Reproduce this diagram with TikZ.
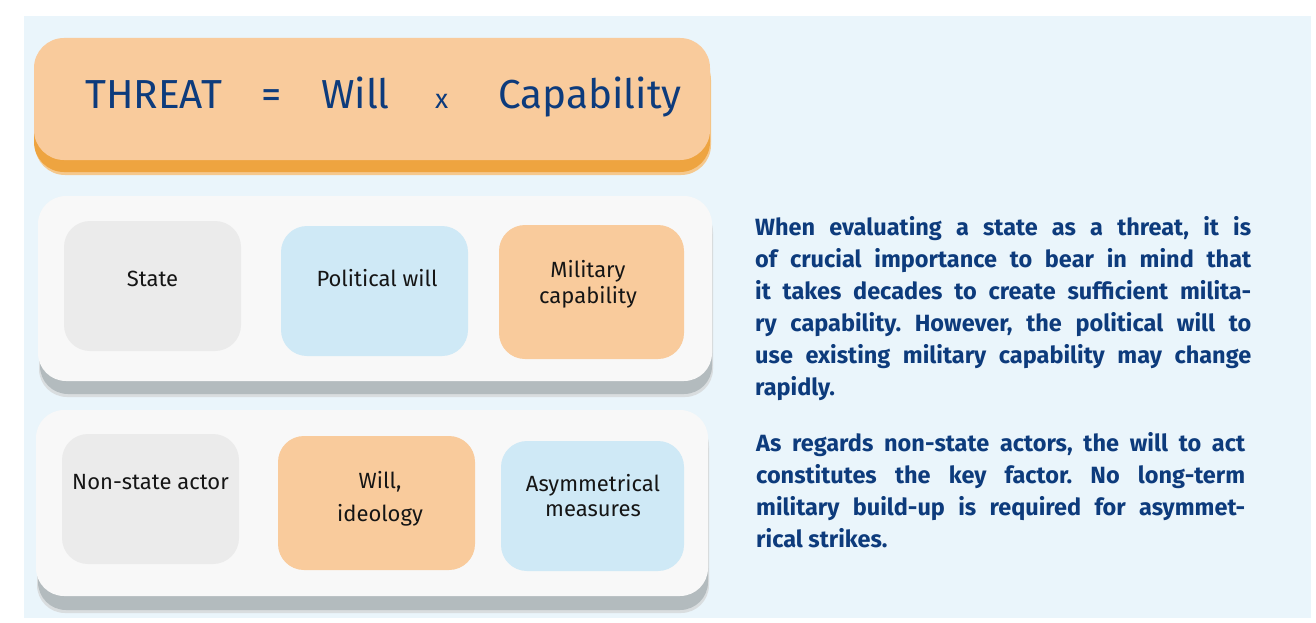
\documentclass[tikz,border=0pt]{standalone}
\usepackage{fontspec}
\setmainfont{Fira Sans}
\definecolor{bgblue}{HTML}{EAF5FB}
\definecolor{torange}{HTML}{F9CB9C}
\definecolor{tshadow}{HTML}{EEA440}
\definecolor{panelw}{HTML}{F8F8F8}
\definecolor{pshadow}{HTML}{B3BBBE}
\definecolor{boxgray}{HTML}{EBEBEB}
\definecolor{boxblue}{HTML}{CFE9F6}
\definecolor{navy}{HTML}{0D3B7C}
\definecolor{labelc}{HTML}{151515}
\hbadness=10000
\hfuzz=20pt
\frenchspacing
\newcommand\jl[2]{\hbox to #1{#2}}
\tikzset{
  boxlbl/.style={anchor=base, inner sep=0pt, text=labelc, font=\fontsize{22}{26}\selectfont},
  ttl/.style={anchor=base west, inner sep=0pt, text=navy, font=\fontsize{40.5}{44}\selectfont},
  para/.style={anchor=base west, inner sep=0pt, text=navy, font=\fontsize{23.5}{32}\bfseries\selectfont},
}
\begin{document}
\begin{tikzpicture}[x=1pt,y=-1pt]
\useasboundingbox (0,0) rectangle (1316,623);
% background panel
\fill[bgblue] (24,16) rectangle (1311,618);
% title box
\fill[tshadow!60, rounded corners=30pt] (35,50) rectangle (711,175);
\fill[tshadow, rounded corners=30pt] (34,48) rectangle (710,172);
\fill[torange, rounded corners=30pt] (34,38) rectangle (710,160);
\node[ttl] (t1) at (85,109) {THREAT};
\node[ttl] (t2) at (261,109) {=};
\node[ttl] (t3) at (321,109) {Will};
\node[ttl, font=\fontsize{27}{30}\selectfont] (t4) at (435,109) {x};
\node[ttl] (t5) at (498,109) {Capability};
% panel 1
\fill[pshadow!50, rounded corners=28pt] (39,204) rectangle (713,397);
\fill[pshadow, rounded corners=28pt] (40,206) rectangle (712,394);
\fill[panelw, rounded corners=28pt] (38,196) rectangle (712,381);
\fill[boxgray, rounded corners=26pt] (64,221) rectangle (241,351);
\fill[boxblue, rounded corners=26pt] (281,226) rectangle (468,356);
\fill[torange, rounded corners=26pt] (499,225) rectangle (684,359);
\node[boxlbl] (l1) at (152.5,286) {State};
\node[boxlbl] (l2) at (377,286) {Political will};
\node[boxlbl] (l3a) at (588,277) {Military};
\node[boxlbl] (l3b) at (588,303) {capability};
% panel 2
\fill[pshadow!50, rounded corners=28pt] (37,418) rectangle (709,613);
\fill[pshadow, rounded corners=28pt] (38,420) rectangle (708,610);
\fill[panelw, rounded corners=28pt] (36,410) rectangle (708,596);
\fill[boxgray, rounded corners=26pt] (62,434) rectangle (239,564);
\fill[torange, rounded corners=26pt] (278,436) rectangle (475,570);
\fill[boxblue, rounded corners=26pt] (501,441) rectangle (684,571);
\node[boxlbl] (l4) at (150.5,489) {Non-state actor};
\node[boxlbl] (l5a) at (380,488) {Will,};
\node[boxlbl] (l5b) at (380,521) {ideology};
\node[boxlbl] (l6a) at (593,491) {Asymmetrical};
\node[boxlbl] (l6b) at (593,516) {measures};
% paragraphs
\node[para] (p1) at (755,235) {\vtop{\baselineskip=32pt
\jl{496pt}{When evaluating a state as a threat, it is}
\jl{496pt}{of crucial importance to bear in mind that}
\jl{496pt}{it takes decades to create sufficient milita-}
\jl{496pt}{ry capability. However, the political will to}
\jl{496pt}{use existing military capability may change}
\hbox{rapidly.}}};
\node[para] (p2) at (756,451) {\vtop{\baselineskip=32pt
\jl{489pt}{As regards non-state actors, the will to act}
\jl{489pt}{constitutes the key factor. No long-term}
\jl{489pt}{military build-up is required for asymmet-}
\hbox{rical strikes.}}};
\end{tikzpicture}
\end{document}
